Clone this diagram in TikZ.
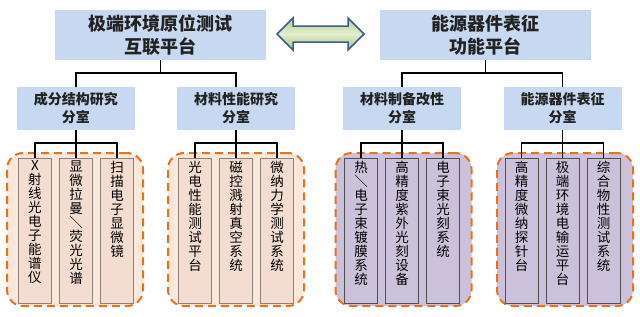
\documentclass[tikz,border=0pt]{standalone}
\usepackage{fontspec}
\setmainfont{Noto Sans CJK SC}
\usepackage{graphicx}
\definecolor{hdrblue}{HTML}{C6D9F1}
\definecolor{txtdark}{HTML}{222222}
\definecolor{orgfill}{HTML}{FCE8DA}
\definecolor{orgleaf}{HTML}{F3DDD0}
\definecolor{orgleafline}{HTML}{8C8078}
\definecolor{purfill}{HTML}{CCC1DA}
\definecolor{purleafline}{HTML}{505050}
\definecolor{dashorange}{HTML}{E8711C}
\definecolor{arrowline}{HTML}{3A5F8F}
\definecolor{arrtop}{HTML}{B5CE86}
\definecolor{arrmid}{HTML}{E4EED2}
\definecolor{arrbot}{HTML}{A6C273}
\newcommand\vtxt[1]{\parbox[c][139pt][t]{16pt}{\centering\fontsize{13.5}{14}\selectfont #1}}
\newcommand\slashv{＼}
\tikzset{
  topbox/.style={fill=hdrblue, draw=none, inner sep=0pt, minimum width=211pt, minimum height=50pt,
    align=center, text=txtdark, font=\bfseries\fontsize{18}{23}\selectfont},
  subbox/.style={fill=hdrblue, draw=none, inner sep=0pt, minimum width=118pt, minimum height=43pt,
    align=center, text=txtdark, font=\bfseries\fontsize{14}{18}\selectfont},
  grpbox/.style={draw=dashorange, line width=2pt, dash pattern=on 8pt off 5pt, rounded corners=16pt,
    minimum width=136pt, minimum height=153pt, inner sep=0pt},
  grpA/.style={grpbox, fill=orgfill},
  grpB/.style={grpbox, fill=purfill},
  leafbox/.style={minimum width=33pt, minimum height=145pt, inner sep=0pt, line width=0.9pt, text=black},
  leafA/.style={leafbox, fill=orgleaf, draw=orgleafline},
  leafB/.style={leafbox, fill=purfill, draw=purleafline},
  conn/.style={draw=black, line width=1.5pt},
}
\begin{document}
\begin{tikzpicture}[x=1pt, y=-1pt]
\useasboundingbox (0,0) rectangle (640,316);
\fill[white] (0,0) rectangle (640,316);

% top boxes
\node[topbox] (TL) at (160.5,35) {极端环境原位测试\\互联平台};
\node[topbox] (TR) at (485.5,35) {能源器件表征\\功能平台};

% double arrow
\draw[arrowline, line width=1.5pt, line join=miter, top color=arrtop, bottom color=arrbot, middle color=arrmid]
  (277,34) -- (293,18) -- (293,26) -- (348,26) -- (348,18) -- (364,34)
  -- (348,50) -- (348,42) -- (293,42) -- (293,50) -- cycle;

% sub boxes
\node[subbox] (S1) at (76,108.5) {成分结构研究\\分室};
\node[subbox] (S2) at (236,108.5) {材料性能研究\\分室};
\node[subbox] (S3) at (402,108.5) {材料制备改性\\分室};
\node[subbox] (S4) at (562.5,108.5) {能源器件表征\\分室};

% group regions
\node[grpA] (G1) at (75,229.5) {};
\node[grpA] (G2) at (236,229.5) {};
\node[grpB] (G3) at (403.5,229.5) {};
\node[grpB] (G4) at (565,229.5) {};

% leaves
\node[leafA] (L11) at (35,230.5) {\vtxt{X\\射\\线\\光\\电\\子\\能\\谱\\仪}};
\node[leafA] (L12) at (76,230.5) {\vtxt{显\\微\\拉\\曼\\\slashv\\荧\\光\\光\\谱}};
\node[leafA] (L13) at (117,230.5) {\vtxt{扫\\描\\电\\子\\显\\微\\镜}};

\node[leafA] (L21) at (195,230.5) {\vtxt{光\\电\\性\\能\\测\\试\\平\\台}};
\node[leafA] (L22) at (236,230.5) {\vtxt{磁\\控\\溅\\射\\真\\空\\系\\统}};
\node[leafA] (L23) at (277,230.5) {\vtxt{微\\纳\\力\\学\\测\\试\\系\\统}};

\node[leafB] (L31) at (361,230.5) {\vtxt{热\\\slashv\\电\\子\\束\\镀\\膜\\系\\统}};
\node[leafB] (L32) at (402,230.5) {\vtxt{高\\精\\度\\紫\\外\\光\\刻\\设\\备}};
\node[leafB] (L33) at (443,230.5) {\vtxt{电\\子\\束\\光\\刻\\系\\统}};

\node[leafB] (L41) at (521.5,230.5) {\vtxt{高\\精\\度\\微\\纳\\探\\针\\台}};
\node[leafB] (L42) at (562.5,230.5) {\vtxt{极\\端\\环\\境\\电\\输\\运\\平\\台}};
\node[leafB] (L43) at (603.5,230.5) {\vtxt{综\\合\\物\\性\\测\\试\\系\\统}};

% connectors top -> sub
\draw[conn] (TL.south) -- ++(0,13) -| (S1.north);
\draw[conn] (TL.south) -- ++(0,13) -| (S2.north);
\draw[conn] (TR.south) -- ++(0,13) -| (S3.north);
\draw[conn] (TR.south) -- ++(0,13) -| (S4.north);

% connectors sub -> leaves
\foreach \s/\a/\b/\c in {S1/L11/L12/L13, S2/L21/L22/L23, S3/L31/L32/L33, S4/L41/L42/L43}{
  \draw[conn] (\s.south) -- ++(0,13) -| (\a.north);
  \draw[conn] (\s.south) -- ++(0,13) -| (\c.north);
  \draw[conn] (\s.south) -- (\b.north);
}
\end{tikzpicture}
\end{document}
